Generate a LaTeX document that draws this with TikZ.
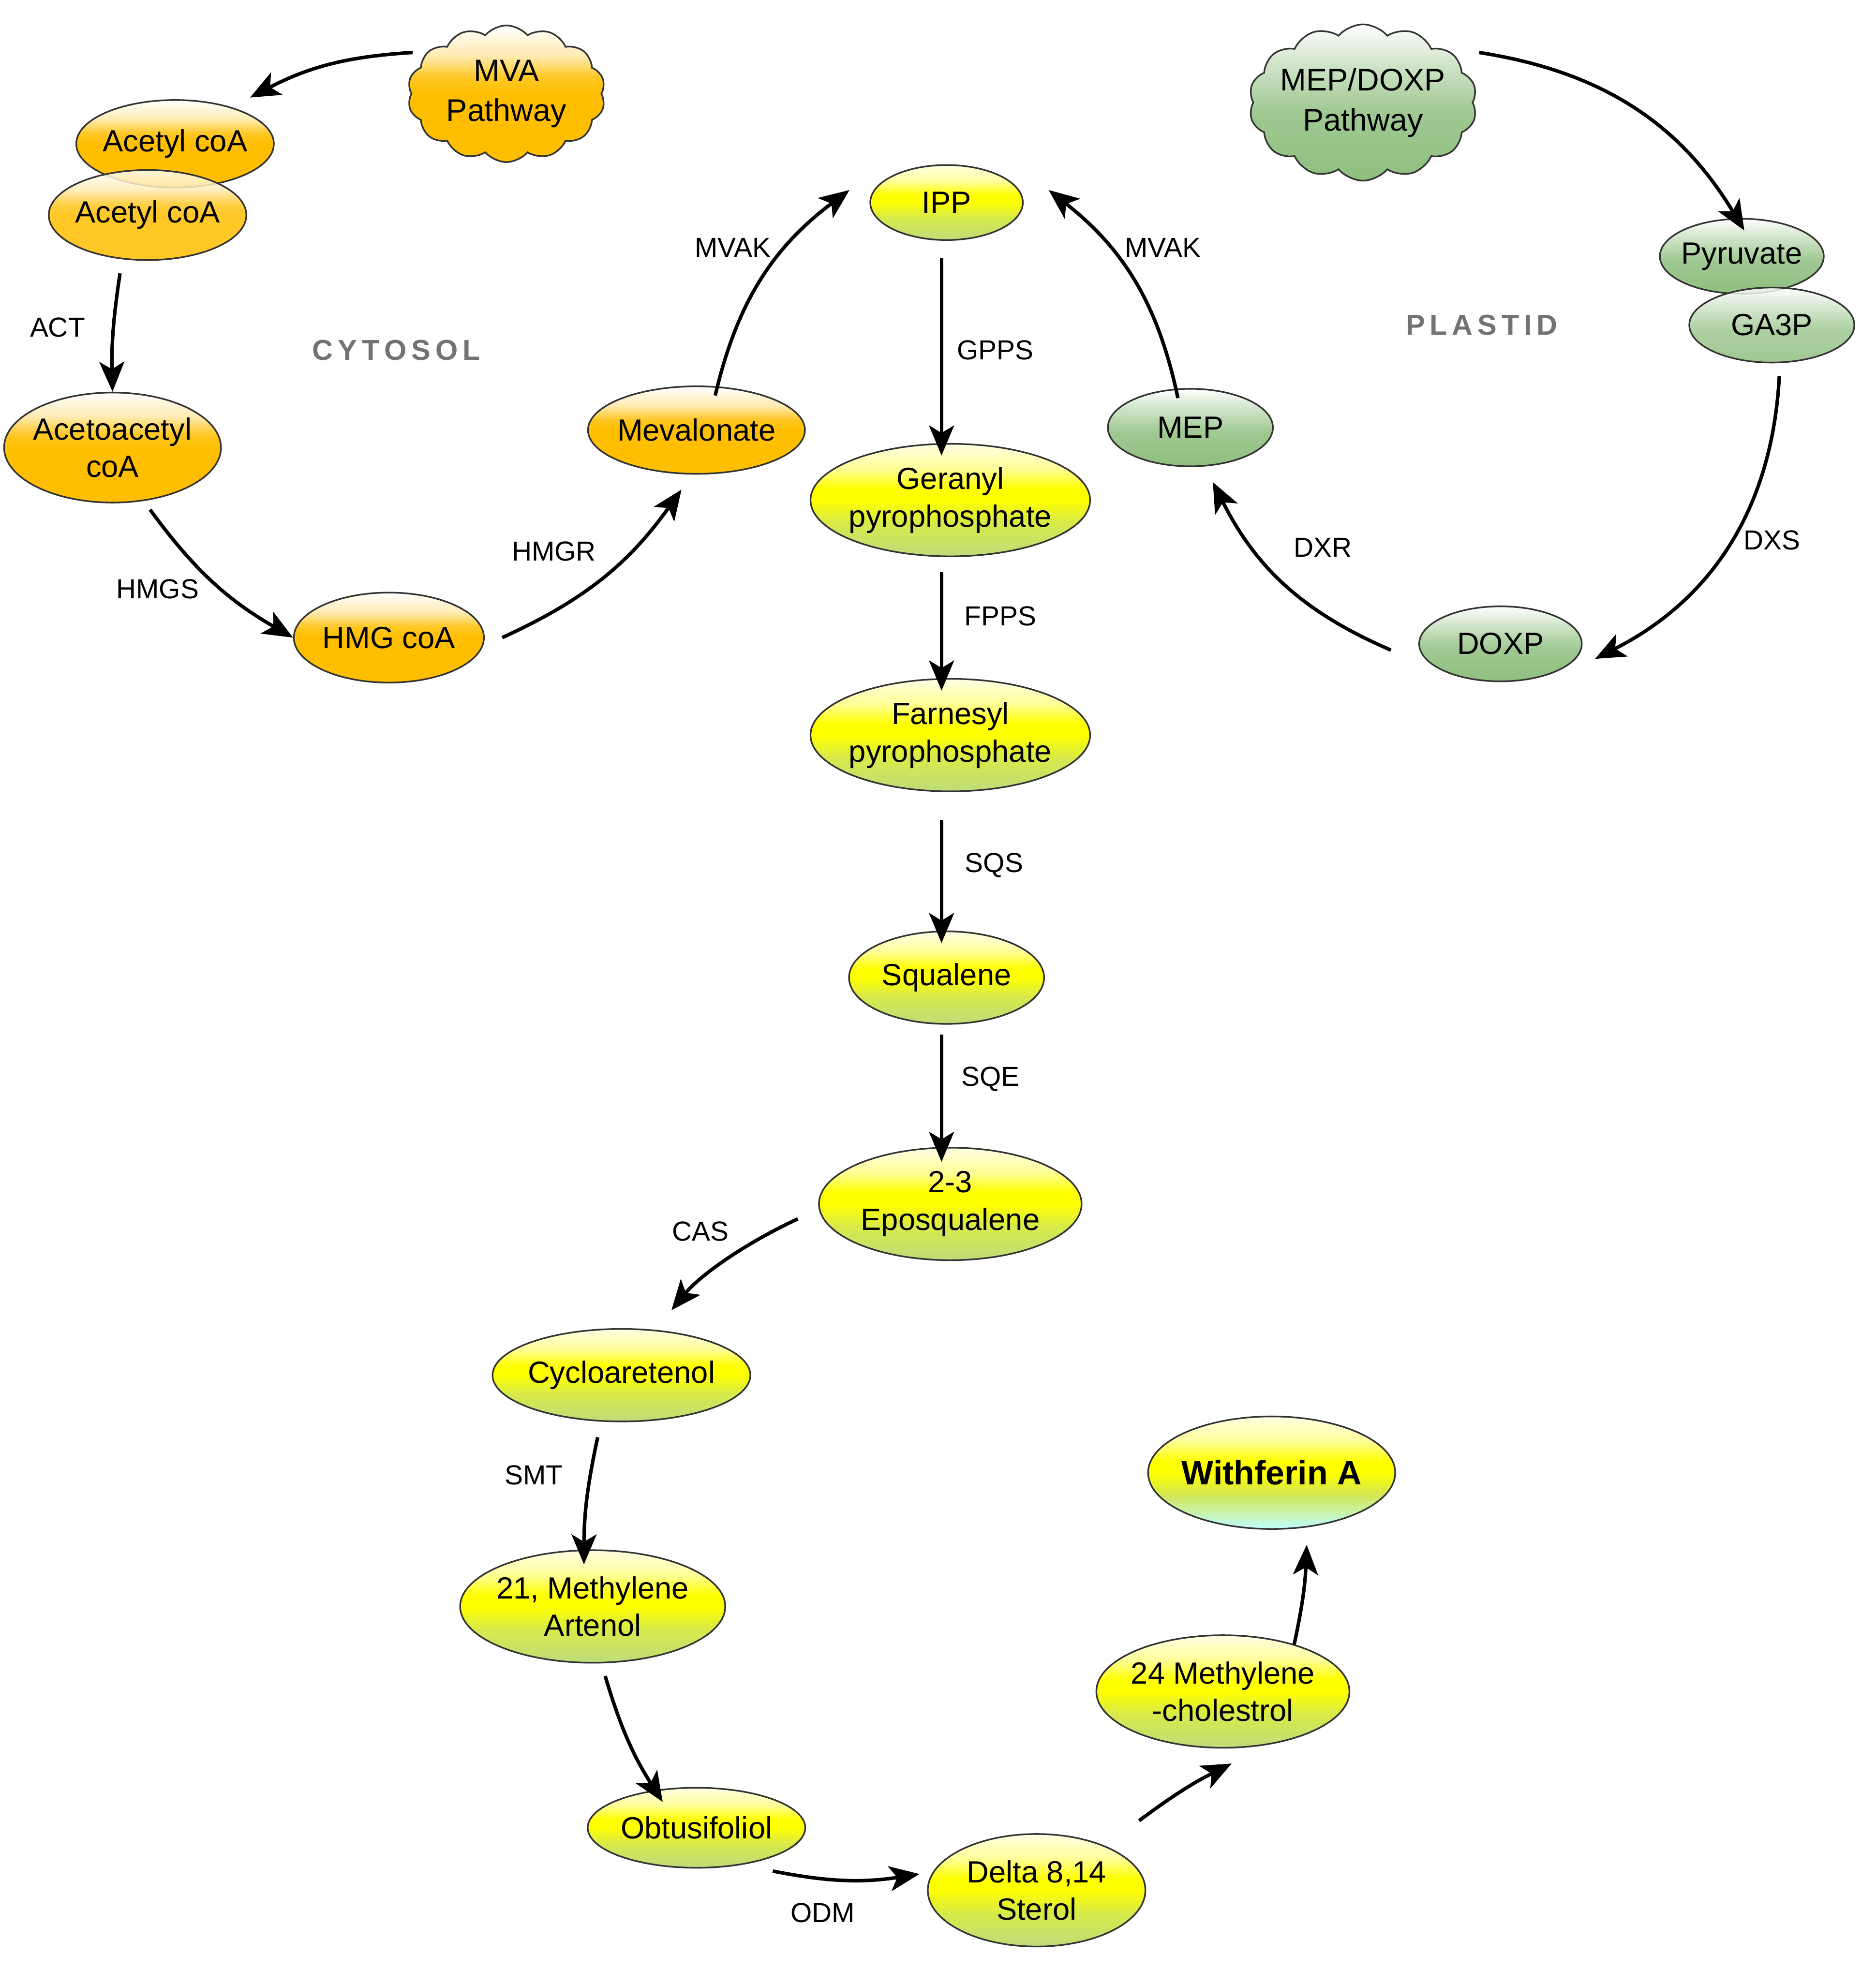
\documentclass[tikz,border=0pt]{standalone}
\usepackage{fontspec}
\setmainfont{Liberation Sans}
\usetikzlibrary{shapes.symbols,shapes.geometric,arrows.meta}
\definecolor{org}{HTML}{FFBE00}
\definecolor{ylw}{HTML}{FFFF00}
\definecolor{ylg}{HTML}{BEDC7A}
\definecolor{grn}{HTML}{8FBF7F}
\pgfdeclareverticalshading{ylsh}{100bp}{color(0bp)=(ylg); color(25bp)=(ylg); color(40bp)=(ylg!60!ylw); color(50bp)=(ylw); color(55bp)=(ylw); color(64bp)=(ylw!40!white); color(75bp)=(ylw!10!white); color(100bp)=(ylw!10!white)}
\pgfdeclareverticalshading{wash}{100bp}{color(0bp)=(cyan!25); color(25bp)=(cyan!25); color(40bp)=(ylg!70!ylw); color(50bp)=(ylw); color(55bp)=(ylw); color(64bp)=(ylw!40!white); color(75bp)=(ylw!10!white); color(100bp)=(ylw!10!white)}
\pgfdeclareverticalshading{ogsh}{100bp}{color(0bp)=(org); color(50bp)=(org); color(56bp)=(org!85); color(64bp)=(org!30!white); color(75bp)=(white); color(100bp)=(white)}
\pgfdeclareverticalshading{grsh}{100bp}{color(0bp)=(grn); color(25bp)=(grn); color(47bp)=(grn!85); color(63bp)=(grn!40!white); color(75bp)=(white); color(100bp)=(white)}
\tikzset{
 base/.style={ellipse,draw=black!80,line width=1.3pt,inner sep=-2pt,font=\fontsize{24.5}{30}\selectfont,align=center},
 og/.style={base,shading=ogsh},
 yl/.style={base,shading=ylsh},
 gr/.style={base,shading=grsh},
 arr/.style={-{Stealth[length=24pt,width=20pt,inset=6pt]},line width=2.8pt},
 lab/.style={font=\fontsize{22}{26}\selectfont},
 comp/.style={font=\bfseries\fontsize{23}{26}\selectfont,text=black!55}
}
\begin{document}
\begin{tikzpicture}[x=1pt,y=-1pt]
\useasboundingbox (0,0) rectangle (1500,1575);
\node[cloud,cloud puffs=14,cloud puff arc=100,aspect=1.5,minimum width=158pt,minimum height=108pt,draw=black!80,line width=1.3pt,shading=ogsh,align=center,font=\fontsize{25}{32}\selectfont] (mva) at (405,75) {MVA\\Pathway};
\node[cloud,cloud puffs=14,cloud puff arc=100,aspect=1.6,minimum width=176pt,minimum height=110pt,inner sep=-4pt,draw=black!80,line width=1.3pt,shading=grsh,align=center,font=\fontsize{25}{32}\selectfont] (mep0) at (1090,82) {MEP/DOXP\\Pathway};
\node[og,minimum width=154pt,minimum height=70pt] (ac1) at (140,115) {Acetyl coA};
\node[og,minimum width=152pt,minimum height=72pt,fill opacity=0.85,text opacity=1] (ac2) at (118,172) {Acetyl coA};
\node[og,minimum width=164pt,minimum height=88pt] (aca) at (90,358) {Acetoacetyl\\coA};
\node[og,minimum width=152pt,minimum height=72pt] (hmg) at (311,510) {HMG coA};
\node[og,minimum width=150pt,minimum height=70pt] (mev) at (557,344) {Mevalonate};
\node[yl,minimum width=122pt,minimum height=60pt] (ipp) at (757,162) {IPP};
\node[yl,minimum width=210pt,minimum height=90pt] (gpp) at (760,400) {Geranyl\\pyrophosphate};
\node[yl,minimum width=210pt,minimum height=90pt] (fpp) at (760,588) {Farnesyl\\pyrophosphate};
\node[yl,minimum width=156pt,minimum height=74pt] (sq) at (757,782) {Squalene};
\node[yl,minimum width=210pt,minimum height=90pt] (epo) at (760,963) {2-3\\Eposqualene};
\node[yl,minimum width=174pt,minimum height=74pt] (cyc) at (497,1100) {Cycloaretenol};
\node[yl,minimum width=210pt,minimum height=90pt] (met) at (474,1285) {21, Methylene\\Artenol};
\node[yl,minimum width=174pt,minimum height=64pt] (obt) at (557,1462) {Obtusifoliol};
\node[yl,minimum width=174pt,minimum height=90pt] (del) at (829,1512) {Delta 8,14\\Sterol};
\node[yl,minimum width=192pt,minimum height=90pt] (chol) at (978,1353) {24 Methylene\\-cholestrol};
\node[base,shading=wash,minimum width=192pt,minimum height=90pt,font=\bfseries\fontsize{27}{31}\selectfont] (wa) at (1017,1178) {Withferin A};
\node[gr,minimum width=130pt,minimum height=60pt] (pyr) at (1393,205) {Pyruvate};
\node[gr,minimum width=132pt,minimum height=60pt,fill opacity=0.85,text opacity=1] (ga) at (1417,260) {GA3P};
\node[gr,minimum width=132pt,minimum height=62pt] (mep) at (952,342) {MEP};
\node[gr,minimum width=130pt,minimum height=60pt] (doxp) at (1200,515) {DOXP};
\node[comp] (cyt) at (317,280) {C\,Y\,T\,O\,S\,O\,L};
\node[comp] (pla) at (1185,260) {P\,L\,A\,S\,T\,I\,D};
\coordinate (t1) at (200,78);
\draw[arr] (330,42) coordinate (s1) to[bend right=12] (t1);
\draw[arr] (ac2.south) ++(-22,10) to[bend right=5] (aca.north);
\node[lab] at (46,262) {ACT};
\draw[arr] ([xshift=30pt,yshift=-5pt]aca.south) to[bend right=12] (hmg.west);
\node[lab] at (126,471) {HMGS};
\draw[arr] ([xshift=14pt]hmg.east) to[bend right=15] ([xshift=-12pt,yshift=-12pt]mev.south);
\node[lab] at (443,441) {HMGR};
\draw[arr] ([xshift=15pt,yshift=-8pt]mev.north) to[bend left=20] ([xshift=-16pt,yshift=10pt]ipp.west);
\node[lab] at (586,198) {MVAK};
\draw[arr] ([xshift=-4pt,yshift=-14pt]ipp.south) -- ([xshift=-7pt,yshift=-10pt]gpp.north);
\node[lab] at (796,280) {GPPS};
\draw[arr] ([xshift=-7pt,yshift=-12pt]gpp.south) -- ([xshift=-7pt,yshift=-10pt]fpp.north);
\node[lab] at (800,493) {FPPS};
\draw[arr] ([xshift=-7pt,yshift=-22pt]fpp.south) -- ([xshift=-4pt,yshift=-10pt]sq.north);
\node[lab] at (795,692) {SQS};
\draw[arr] ([xshift=-4pt,yshift=-8pt]sq.south) -- ([xshift=-7pt,yshift=-12pt]epo.north);
\node[lab] at (792,863) {SQE};
\coordinate (e1) at (638,975);
\coordinate (e2) at (537,1048);
\draw[arr] (e1) .. controls (595,995) and (560,1020) .. (e2);
\node[lab] at (560,985) {CAS};
\draw[arr] ([xshift=-19pt,yshift=-12pt]cyc.south) to[bend right=6] ([xshift=-7pt,yshift=-12pt]met.north);
\node[lab] at (427,1180) {SMT};
\draw[arr] ([xshift=10pt,yshift=-10pt]met.south) to[bend right=8] ([xshift=-27pt,yshift=-12pt]obt.north);
\draw[arr] ([xshift=61pt,yshift=-2pt]obt.south) to[bend right=10] ([xshift=-6pt,yshift=13pt]del.west);
\node[lab] at (658,1530) {ODM};
\draw[arr] ([xshift=82pt,yshift=10pt]del.north) to[bend left=5] ([xshift=7pt,yshift=-12pt]chol.south);
\draw[arr] ([xshift=57pt,yshift=-8pt]chol.north) to[bend right=5] ([xshift=28pt,yshift=-12pt]wa.south);
\draw[arr] (1183,42) coordinate (s2) to[bend left=25] ([xshift=2pt,yshift=-10pt]pyr.north);
\draw[arr] ([xshift=6pt,yshift=-10pt]ga.south) to[bend left=30] ([xshift=10pt,yshift=-12pt]doxp.east);
\node[lab] at (1417,432) {DXS};
\draw[arr] ([xshift=-22pt,yshift=-5pt]doxp.west) to[bend left=20] ([xshift=18pt,yshift=-12pt]mep.south);
\node[lab] at (1058,438) {DXR};
\draw[arr] ([xshift=-10pt,yshift=-8pt]mep.north) to[bend right=20] ([xshift=20pt,yshift=10pt]ipp.east);
\node[lab] at (930,198) {MVAK};
\end{tikzpicture}
\end{document}
